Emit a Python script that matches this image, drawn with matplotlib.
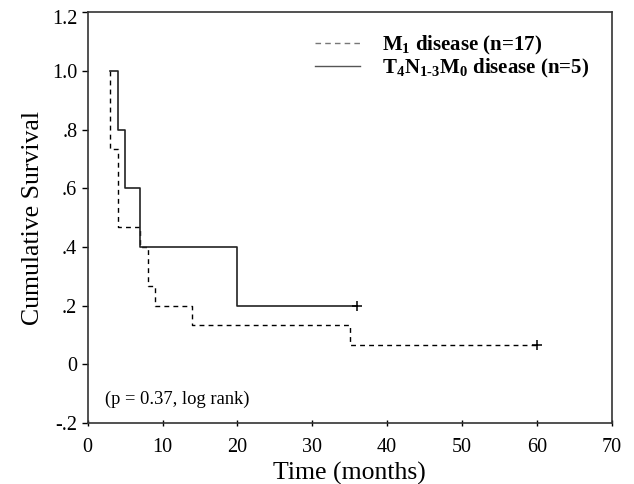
import matplotlib
matplotlib.use('Agg')
import matplotlib.pyplot as plt
import matplotlib.transforms as mtransforms
from matplotlib.lines import Line2D

plt.rcParams['font.family'] = 'Liberation Serif'
plt.rcParams['mathtext.fontset'] = 'custom'
plt.rcParams['mathtext.rm'] = 'Liberation Serif'
plt.rcParams['mathtext.bf'] = 'Liberation Serif:bold'

# Kaplan-Meier step data
m1_time = [3, 3, 4, 7, 8, 9, 14, 35, 60]
m1_surv = [1.0, 0.733, 0.467, 0.40, 0.267, 0.20, 0.133, 0.067, 0.067]
t4_time = [3, 4, 5, 7, 20, 36]
t4_surv = [1.0, 0.8, 0.6, 0.4, 0.2, 0.2]

m1_label = r'M$_\mathbf{1}$ disease (n=17)'
t4_label = r'T$_\mathbf{4}$N$_\mathbf{1\text{-}3}$M$_\mathbf{0}$ disease (n=5)'

yticks = [-0.2, 0, 0.2, 0.4, 0.6, 0.8, 1.0, 1.2]
ytick_labels = ['-.2', '0', '.2', '.4', '.6', '.8', '1.0', '1.2']
xticks = [0, 10, 20, 30, 40, 50, 60, 70]

fig = plt.figure(figsize=(6.34, 4.84), dpi=100, facecolor='white')
ax = fig.add_axes([0.1383, 0.126, 0.8265, 0.8486])

ax.step(m1_time, m1_surv, where='post', color='black', lw=1.0, dashes=(3.5, 3))
ax.step(t4_time, t4_surv, where='post', color='#222222', lw=1.2)
# censor marks
ax.plot(m1_time[-1], m1_surv[-1], marker='+', ms=7, mew=1.1, color='black')
ax.plot(t4_time[-1], t4_surv[-1], marker='+', ms=7, mew=1.1, color='black')

ax.set_xlim(0, 70)
ax.set_ylim(-0.2, 1.2)
ax.set_xticks(xticks)
ax.set_yticks(yticks)
ax.set_yticklabels(ytick_labels)
ax.tick_params(axis='y', direction='out', length=4, labelsize=14.5, width=1)
ax.tick_params(axis='x', direction='inout', length=4, labelsize=14.5, width=1, pad=9)
for s in ax.spines.values():
    s.set_color('#333333')
    s.set_linewidth(1.2)

# top label sits a little below its tick
top_lbl = ax.get_yticklabels()[-1]
top_lbl.set_transform(top_lbl.get_transform() +
                      mtransforms.ScaledTranslation(0, -5 / 100, fig.dpi_scale_trans))

ax.set_xlabel('Time (months)', fontsize=18.5, labelpad=3)
ax.set_ylabel('Cumulative Survival', fontsize=18.5, labelpad=6)

ax.text(2.3, -0.118, '(p = 0.37, log rank)', fontsize=13.3, va='center', ha='left')

handles = [Line2D([], [], color='#777777', lw=1.0, dashes=(4, 3)),
           Line2D([], [], color='#555555', lw=1.0)]
ax.legend(handles, [m1_label, t4_label], loc='upper left',
          bbox_to_anchor=(0.417, 0.968), frameon=False,
          prop={'weight': 'bold', 'size': 15},
          handlelength=2.2, handletextpad=1.05, labelspacing=0.0,
          borderaxespad=0)

fig.savefig('out.png', dpi=100, facecolor='white')
